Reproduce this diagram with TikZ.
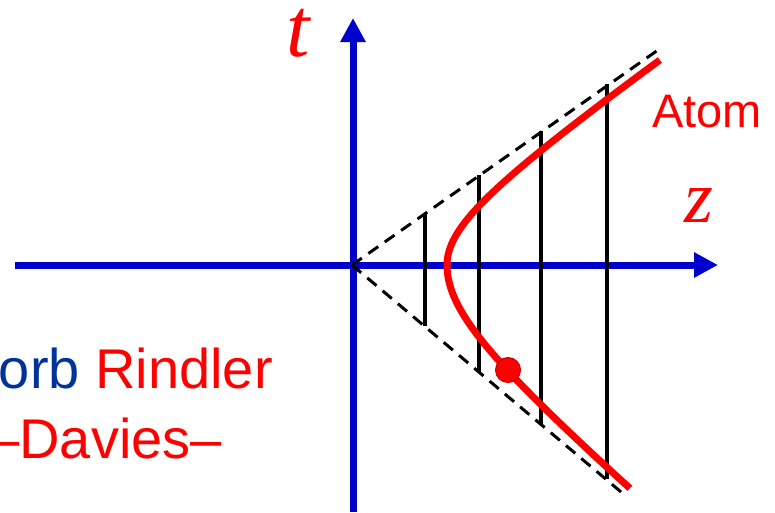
\documentclass[tikz,border=0pt]{standalone}
\usepackage{fontspec}
\setmainfont{Liberation Sans}
\newfontfamily\varfont{Liberation Serif}
\usetikzlibrary{arrows.meta,positioning}

\definecolor{axisblue}{RGB}{0,0,204}
\definecolor{labelblue}{RGB}{0,51,153}

\begin{document}
\begin{tikzpicture}[x=1pt, y=-1pt,
    axis/.style={axisblue, line width=7pt, -{Triangle[length=24pt, width=24pt]}},
    cone/.style={black, line width=3pt, dash pattern=on 12pt off 8pt},
    rung/.style={black, line width=3.5pt},
    worldline/.style={red, line width=7pt},
    atomdot/.style={circle, fill=red, draw=red!80!black, line width=1pt,
                    minimum size=25pt, inner sep=0pt},
    biglabel/.style={red, inner sep=0pt, font=\fontsize{56}{60}\selectfont},
    axislabel/.style={red, inner sep=0pt, text height=46pt, text depth=0pt,
                      font=\varfont\itshape\fontsize{74}{78}\selectfont}]
\useasboundingbox (0,0) rectangle (775,512);
\clip (0,0) rectangle (775,512);

\coordinate (O) at (352,265);
\coordinate (zleft) at (15,265);
\coordinate (zright) at (718,265);
\coordinate (tbottom) at (353,512);
\coordinate (ttop) at (353,18);
\coordinate (coneup) at (658,50);
\coordinate (conedown) at (627,497);

% axes
\draw[axis] (zleft) -- (zright);
\draw[axis] (tbottom) -- (ttop);

% light cone
\draw[cone] (O) -- (coneup);
\draw[cone] (O) -- (conedown);

\foreach \zx in {425,479,541,607}
  \draw[rung] (\zx,{265-0.71*(\zx-352)}) -- (\zx,{265+0.84*(\zx-352)});

% hyperbolic world line of the atom
\draw[worldline] plot[domain=-1.736:1.845, samples=80, smooth]
  ({352+95*cosh(\x)}, {265-95*sinh(\x)*(\x>0?0.7:0.855)});
\node[atomdot] (atom) at (508,370) {};

% labels
\node[axislabel, anchor=base, font=\varfont\itshape\fontsize{84}{88}\selectfont] (tlabel) at (298,56) {t};
\node[axislabel, anchor=base] (zlabel) at (699,222) {z};
\node[biglabel, anchor=base west, font=\fontsize{47}{50}\selectfont] (atomlabel) at (652,127) {Atom};
\node[biglabel, anchor=base east] (rindler) at (273,388) {\textcolor{labelblue}{orb} Rindler};
\node[biglabel, anchor=base east] (davies) at (222,458) {–Davies–};
\end{tikzpicture}
\end{document}
